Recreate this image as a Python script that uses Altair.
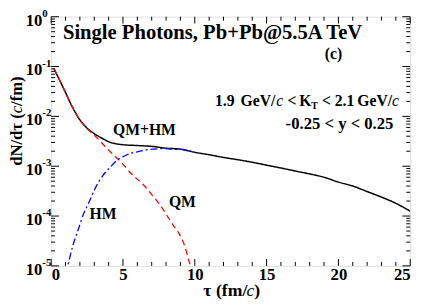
import altair as alt
import pandas as pd

# ---- data ----
tau_total = [0.2, 0.5, 1.0, 1.5, 2.0, 2.5, 3.0, 3.5, 4.0, 5.0, 6.0, 7.0, 8.0, 9.0, 10.0,
             11.0, 12.0, 13.0, 14.0, 15.0, 16.0, 17.0, 18.0, 19.0, 20.0, 21.0, 22.0,
             23.0, 24.0, 25.0]
dn_total = [0.09, 0.06, 0.03, 0.015, 0.0085, 0.0058, 0.0045, 0.0037, 0.0031, 0.0027,
            0.0026, 0.0025, 0.0023, 0.0022, 0.0019, 0.0017, 0.0015, 0.00135, 0.0012,
            0.00105, 0.00092, 0.0008, 0.0007, 0.0006, 0.00048, 0.0004, 0.00031,
            0.00024, 0.00018, 0.000125]

tau_qm = [0.2, 0.5, 1.0, 1.5, 2.0, 2.5, 3.0, 3.5, 4.0, 4.64, 5.0, 5.5, 6.0, 6.5, 7.0,
          7.5, 8.0, 8.5, 8.9, 9.3, 9.7, 10.0]
dn_qm = [0.09, 0.06, 0.03, 0.015, 0.0085, 0.0057, 0.0042, 0.003, 0.0021, 0.0014,
         0.0011, 0.00075, 0.00055, 0.0004, 0.00027, 0.00018, 0.00011, 6.5e-5, 4.5e-5,
         2.5e-5, 1e-5, 6e-6]

tau_hm = [1.0, 1.15, 1.5, 1.9, 2.25, 2.6, 3.0, 3.3, 3.6, 4.0, 4.64, 5.0, 5.5, 6.0,
          6.5, 7.0, 7.8, 8.5, 9.2, 10.0]
dn_hm = [7e-6, 1e-5, 2.5e-5, 5.5e-5, 1.1e-4, 1.8e-4, 3.3e-4, 4.8e-4, 6.5e-4, 8.8e-4,
         1.35e-3, 1.55e-3, 1.8e-3, 1.95e-3, 2.1e-3, 2.2e-3, 2.25e-3, 2.2e-3, 2.15e-3,
         1.9e-3]

x_major = [0, 5, 10, 15, 20, 25]
x_minor = [t for t in range(26) if t % 5 != 0]
y_decades = [1e-5, 1e-4, 1e-3, 1e-2, 1e-1, 1.0]
y_exponents = ["-5", "-4", "-3", "-2", "-1", "0"]
y_minor = [k * d for d in [1e-5, 1e-4, 1e-3, 1e-2, 1e-1] for k in range(2, 10)]

W, H = 366, 254
OX, OY = 52, 14  # plot origin on the page
FONT = "Liberation Serif"

xs = alt.Scale(domain=[0, 25], nice=False, zero=False)
ys = alt.Scale(type="log", domain=[1e-5, 1], nice=False)

df_total = pd.DataFrame({"tau": tau_total, "dn": dn_total})
df_qm = pd.DataFrame({"tau": tau_qm, "dn": dn_qm})
df_hm = pd.DataFrame({"tau": tau_hm, "dn": dn_hm})


def line(df, color, dash, width):
    return alt.Chart(df).mark_line(
        color=color, strokeDash=dash, strokeWidth=width, clip=True,
        interpolate="monotone"
    ).encode(
        x=alt.X("tau:Q", scale=xs,
                axis=alt.Axis(values=x_major, format="d", ticks=False, domain=False,
                              grid=False, labelFont=FONT, labelFontWeight="bold",
                              labelFontSize=17, labelColor="black", labelPadding=1,
                              title=None)),
        y=alt.Y("dn:Q", scale=ys, axis=None),
    )


black = line(df_total, "black", [1, 0], 1.5)
red = line(df_qm, "#ff0000", [6, 4], 1.3)
blue = line(df_hm, "#0000ff", [7, 3, 2, 3], 1.3)

# inward ticks
dfx_maj = pd.DataFrame({"t": x_major})
dfx_min = pd.DataFrame({"t": x_minor})
dfy_maj = pd.DataFrame({"v": y_decades, "e": y_exponents})
dfy_min = pd.DataFrame({"v": y_minor})


def xticks(df, ln):
    b = alt.Chart(df).mark_rule(color="black", strokeWidth=1).encode(
        x=alt.X("t:Q", scale=xs), y=alt.value(H), y2=alt.value(H - ln))
    t = alt.Chart(df).mark_rule(color="black", strokeWidth=1).encode(
        x=alt.X("t:Q", scale=xs), y=alt.value(0), y2=alt.value(ln))
    return b + t


def yticks(df, ln):
    l = alt.Chart(df).mark_rule(color="black", strokeWidth=1).encode(
        y=alt.Y("v:Q", scale=ys), x=alt.value(0), x2=alt.value(ln))
    r = alt.Chart(df).mark_rule(color="black", strokeWidth=1).encode(
        y=alt.Y("v:Q", scale=ys), x=alt.value(W), x2=alt.value(W - ln))
    return l + r


ticks = xticks(dfx_maj, 7) + xticks(dfx_min, 4) + yticks(dfy_maj, 8) + yticks(dfy_min, 4)

# y axis labels 10^n
ylab_base = alt.Chart(dfy_maj).mark_text(
    font=FONT, fontWeight="bold", fontSize=17, align="right", baseline="middle",
    dy=4, color="black"
).encode(y=alt.Y("v:Q", scale=ys), x=alt.value(-9), text=alt.value("10"))
ylab_exp = alt.Chart(dfy_maj).mark_text(
    font=FONT, fontWeight="bold", fontSize=11, align="left", baseline="middle",
    dy=-3, color="black"
).encode(y=alt.Y("v:Q", scale=ys), x=alt.value(-9), text="e:N")


def txt(s, px, py, size, weight="bold", style="normal", align="left", angle=0,
        baseline="middle"):
    return alt.Chart(pd.DataFrame({"s": [s]})).mark_text(
        font=FONT, fontWeight=weight, fontStyle=style, fontSize=size, align=align,
        baseline=baseline, angle=angle, color="black"
    ).encode(x=alt.value(px - OX), y=alt.value(py - OY), text="s:N")


texts = [
    txt("Single Photons, Pb+Pb@5.5A TeV", 64, 31, 21),
    txt("(c)", 331, 52, 16),
    # kinematic window
    txt("1.9", 219, 100, 16),
    txt("GeV/", 245, 100, 16),
    txt("c", 281.5, 100, 16, weight="normal", style="italic"),
    txt("<", 293, 100, 16),
    txt("K", 305, 100, 16),
    txt("T", 317, 105, 10),
    txt("<", 328, 100, 16),
    txt("2.1", 341, 100, 16),
    txt("GeV/", 364, 100, 16),
    txt("c", 399.5, 100, 16, weight="normal", style="italic"),
    txt("-0.25 < y < 0.25", 291, 123, 17),
    # curve labels
    txt("QM+HM", 115, 130, 16),
    txt("HM", 91, 215, 16),
    txt("QM", 172, 203, 16),
    # x title
    txt("\u03c4", 207, 294, 18),
    txt("(fm/", 220, 294, 18),
    txt("c", 251, 294, 18, weight="normal", style="italic"),
    txt(")", 259, 294, 18),
    # y title (rotated)
    txt("dN/d\u03c4 (", 17, 166, 17, angle=270),
    txt("c", 17, 112.5, 17, weight="normal", style="italic", angle=270),
    txt("/fm)", 17, 105, 17, angle=270),
]

chart = alt.layer(black, red, blue, ticks, ylab_base, ylab_exp, *texts).properties(
    width=W, height=H,
    autosize=alt.AutoSizeParams(type="none"),
    padding={"left": 44, "top": 6, "right": 11, "bottom": 37},
).configure_view(stroke="black", strokeWidth=1.2).configure(background="white")

chart.save("out.html", embed_options={"renderer": "svg", "actions": False})
